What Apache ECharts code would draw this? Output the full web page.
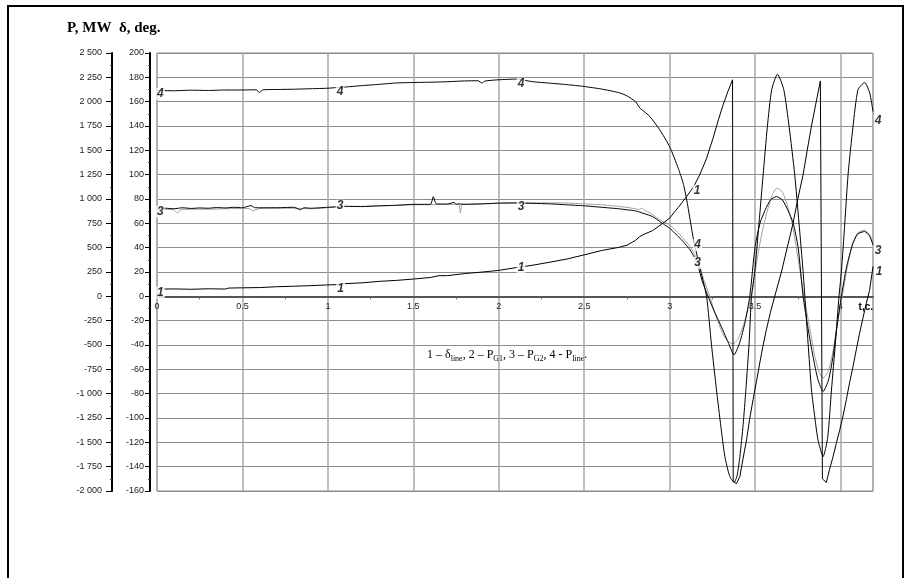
<!DOCTYPE html>
<html>
<head>
<meta charset="utf-8">
<script src="https://cdn.jsdelivr.net/npm/echarts@6/dist/echarts.min.js"></script>
<style>html,body{margin:0;padding:0;background:#fff}#c{width:906px;height:578px}</style>
</head>
<body>
<div id="c"></div>
<script>
// ---- data (t in s) ----
// curve 1: delta_line, deg
const curve1 = [[0,5.9],[0.1,6.1],[0.2,5.8],[0.3,6.2],[0.4,6.0],[0.42,6.8],[0.5,7.0],[0.6,7.2],[0.7,7.9],[0.8,8.3],[0.9,8.8],[1.0,9.4],[1.05,9.6],[1.1,10.4],[1.2,11.1],[1.3,12.3],[1.4,13.1],[1.5,14.2],[1.6,15.5],[1.65,17],[1.7,17.0],[1.8,18.7],[1.9,19.9],[2.0,21.3],[2.1,23.6],[2.2,25.6],[2.3,28.1],[2.4,30.7],[2.5,34.1],[2.6,37.6],[2.7,40.2],[2.75,42],[2.8,46],[2.826,49.2],[2.85,51],[2.9,54],[2.95,59],[3.0,64.3],[3.05,73],[3.099,82],[3.14,90],[3.176,99.9],[3.215,113],[3.254,130],[3.285,145],[3.313,157.4],[3.34,168],[3.368,178],[3.372,-152],[3.391,-154],[3.411,-148],[3.43,-133],[3.45,-118],[3.468,-101],[3.488,-85],[3.508,-70],[3.527,-55],[3.546,-41],[3.566,-27.5],[3.59,-13],[3.615,0],[3.654,20],[3.688,40],[3.722,60],[3.75,80],[3.781,100],[3.805,120],[3.83,140],[3.855,158],[3.882,177],[3.894,-150],[3.917,-153],[3.936,-142],[3.956,-132],[3.975,-121],[3.995,-110],[4.015,-98],[4.034,-85],[4.053,-71],[4.073,-57.7],[4.092,-44],[4.112,-30],[4.131,-18],[4.151,-5.6],[4.17,5],[4.19,24.5]];
// curve 2: P_G1, MW (grey)
const curve2 = [[0,890],[0.05,893],[0.1,888],[0.12,855],[0.14,892],[0.2,895],[0.3,895],[0.4,900],[0.5,903],[0.54,900],[0.56,880],[0.6,902],[0.7,905],[0.8,905],[0.9,900],[1.0,910],[1.05,918],[1.1,922],[1.2,925],[1.3,930],[1.4,935],[1.5,940],[1.6,942],[1.7,945],[1.765,945],[1.775,855],[1.785,945],[1.8,948],[1.9,950],[2.0,955],[2.1,958],[2.2,960],[2.3,960],[2.4,958],[2.5,950],[2.6,940],[2.7,925],[2.8,900],[2.82,890],[2.835,905],[2.86,880],[2.9,840],[2.942,786],[3.0,735],[3.06,632],[3.119,512],[3.167,358],[3.2,170],[3.235,0],[3.27,-200],[3.31,-380],[3.34,-460],[3.37,-488],[3.40,-440],[3.44,-250],[3.479,0],[3.51,360],[3.54,650],[3.57,870],[3.60,1040],[3.627,1112],[3.66,1070],[3.69,930],[3.72,720],[3.75,400],[3.786,0],[3.82,-330],[3.85,-620],[3.875,-780],[3.898,-840],[3.925,-780],[3.95,-620],[3.98,-300],[4.01,0],[4.04,300],[4.07,540],[4.10,650],[4.141,680],[4.17,630],[4.19,540]];
// curve 3: P_G2, MW
const curve3 = [[0,899],[0.05,905],[0.1,900],[0.15,910],[0.2,903],[0.25,908],[0.3,905],[0.35,912],[0.4,908],[0.45,915],[0.5,910],[0.55,932],[0.57,912],[0.6,910],[0.7,910],[0.8,915],[0.84,890],[0.86,910],[0.9,905],[1.0,915],[1.05,920],[1.1,925],[1.2,922],[1.3,930],[1.4,935],[1.5,945],[1.6,945],[1.617,1025],[1.635,950],[1.7,948],[1.74,965],[1.75,945],[1.76,950],[1.8,945],[1.9,950],[2.0,958],[2.1,960],[2.2,955],[2.3,950],[2.4,940],[2.5,930],[2.6,915],[2.7,900],[2.75,889],[2.8,878],[2.85,850],[2.9,820],[2.942,769],[2.97,735],[3.0,700],[3.03,650],[3.06,598],[3.09,540],[3.119,478],[3.145,400],[3.167,306],[3.19,160],[3.225,0],[3.26,-150],[3.293,-275],[3.342,-470],[3.377,-601],[3.411,-470],[3.44,-275],[3.469,0],[3.50,510],[3.53,760],[3.56,890],[3.59,990],[3.625,1025],[3.66,990],[3.693,880],[3.723,752],[3.752,500],[3.781,0],[3.81,-330],[3.839,-619],[3.868,-858],[3.898,-978],[3.93,-858],[3.956,-619],[3.98,-300],[4.005,0],[4.035,300],[4.07,530],[4.10,640],[4.141,666],[4.17,620],[4.19,529]];
// curve 4: P_line, MW
const curve4 = [[0,2115],[0.1,2112],[0.2,2118],[0.3,2115],[0.4,2120],[0.5,2120],[0.58,2122],[0.6,2094],[0.62,2122],[0.7,2125],[0.8,2128],[0.9,2133],[1.0,2138],[1.05,2145],[1.1,2150],[1.2,2165],[1.3,2178],[1.4,2192],[1.5,2197],[1.6,2200],[1.7,2205],[1.8,2213],[1.88,2215],[1.9,2192],[1.92,2212],[2.0,2225],[2.1,2232],[2.2,2205],[2.3,2190],[2.4,2175],[2.5,2156],[2.6,2130],[2.7,2094],[2.75,2060],[2.8,2000],[2.826,1934],[2.85,1900],[2.884,1848],[2.942,1711],[3.0,1538],[3.05,1317],[3.079,1163],[3.1,991],[3.14,580],[3.18,272],[3.216,0],[3.245,-500],[3.274,-961],[3.30,-1340],[3.323,-1646],[3.35,-1840],[3.377,-1913],[3.395,-1840],[3.411,-1646],[3.43,-1320],[3.446,-961],[3.465,-480],[3.479,0],[3.498,255],[3.523,752],[3.547,1249],[3.572,1745],[3.597,2122],[3.631,2283],[3.668,2122],[3.699,1745],[3.732,1249],[3.757,752],[3.781,255],[3.791,0],[3.81,-480],[3.83,-961],[3.85,-1250],[3.868,-1475],[3.898,-1646],[3.925,-1450],[3.947,-961],[3.97,-480],[3.991,0],[4.005,255],[4.025,752],[4.044,1249],[4.073,1745],[4.102,2122],[4.141,2197],[4.171,2088],[4.19,1899]];
// curve number labels: [t, deg-scale value], text
const tagPoints = [[0.02,166.5],[1.071,168.1],[2.13,174.6],[3.164,42.3],[4.22,144.3],
                   [0.02,69.5],[1.071,74.4],[2.13,73.6],[3.164,27.5],[4.22,37.4],
                   [0.02,2.9],[1.075,6.2],[2.13,23.4],[3.16,86.7],[4.225,20.1]];
const tagTexts = ['4','4','4','4','4','3','3','3','3','3','1','1','1','1','1'];
// axis ticks
const degMin = -160, degMax = 200, degStep = 20;
const pMin = -2000, pMax = 2500, pStep = 250;
const tMin = 0, tMax = 4.19, tStep = 0.5;

const chart = echarts.init(document.getElementById('c'), null, {renderer: 'canvas'});
const fmtP = v => (v < 0 ? '-' : '') + String(Math.abs(v)).replace(/\B(?=(\d{3})+(?!\d))/g, ' ');
const lbl = {fontFamily: 'Liberation Sans, Arial', fontSize: 9, color: '#222'};
const gridTop = 53, gridBottom = 87, H = 578;
const plotH = H - gridTop - gridBottom;
const zeroShift = -plotH * (0 - degMin) / (degMax - degMin); // move x axis up to the zero line
const smoothLine = {showSymbol: false, smooth: 0.2};
chart.setOption({
  animation: false,
  backgroundColor: '#fff',
  title: {text: 'P, MW  \u03b4, deg.', left: 62, top: 16,
    textStyle: {fontFamily: 'Liberation Serif, Times New Roman', fontWeight: 'bold', fontSize: 15, color: '#000'}},
  grid: {left: 157, right: 33, top: gridTop, bottom: gridBottom, show: true, borderColor: '#888', borderWidth: 1, containLabel: false},
  xAxis: {type: 'value', min: tMin, max: tMax, interval: tStep, position: 'bottom', offset: zeroShift,
    axisLine: {onZero: false, lineStyle: {color: '#555', width: 2}},
    axisTick: {show: false},
    minorTick: {show: true, splitNumber: 2, length: 3, lineStyle: {color: '#666'}},
    axisLabel: Object.assign({margin: 6, alignMaxLabel: 'right',
      formatter: v => (v > 4.1 ? '{b|t,c.}' : String(v)),
      rich: {b: {fontFamily: 'Liberation Sans, Arial', fontWeight: 'bold', fontSize: 10, color: '#000'}}}, lbl),
    splitLine: {show: true, lineStyle: {color: '#a8a8a8', width: 1.5}}},
  yAxis: [
    {type: 'value', position: 'left', offset: 7, min: degMin, max: degMax, interval: degStep,
      axisLine: {show: true, onZero: false, lineStyle: {color: '#000', width: 2}},
      axisTick: {show: true, length: 5, lineStyle: {color: '#000'}},
      minorTick: {show: true, splitNumber: 2, length: 2, lineStyle: {color: '#444'}},
      axisLabel: Object.assign({margin: 6}, lbl),
      splitLine: {show: true, lineStyle: {color: '#8c8c8c', width: 1}}},
    {type: 'value', position: 'left', offset: 45, min: pMin, max: pMax, interval: pStep,
      axisLine: {show: true, onZero: false, lineStyle: {color: '#000', width: 2}},
      axisTick: {show: true, length: 6, lineStyle: {color: '#000'}},
      minorTick: {show: true, splitNumber: 2, length: 2, lineStyle: {color: '#444'}},
      axisLabel: Object.assign({margin: 10, formatter: fmtP}, lbl),
      splitLine: {show: false}}
  ],
  series: [
    Object.assign({type: 'line', name: '2', yAxisIndex: 1, data: curve2, lineStyle: {color: '#a0a0a0', width: 1}, z: 2}, smoothLine),
    Object.assign({type: 'line', name: '3', yAxisIndex: 1, data: curve3, lineStyle: {color: '#000', width: 1}, z: 3}, smoothLine),
    Object.assign({type: 'line', name: '4', yAxisIndex: 1, data: curve4, lineStyle: {color: '#000', width: 1}, z: 3}, smoothLine),
    {type: 'line', name: '1', yAxisIndex: 0, data: curve1, showSymbol: false, lineStyle: {color: '#000', width: 1}, z: 3},
    {type: 'scatter', yAxisIndex: 0, data: tagPoints, symbolSize: 0, clip: false, silent: true, z: 10,
      label: {show: true, position: 'inside', formatter: p => tagTexts[p.dataIndex],
        fontFamily: 'Liberation Sans, Arial', fontStyle: 'italic', fontWeight: 'bold', fontSize: 12, color: '#000',
        backgroundColor: '#fff', padding: [0, 1, 0, 1]}}
  ],
  graphic: [
    {type: 'rect', shape: {x: 8, y: 6, width: 895, height: 580}, style: {fill: 'none', stroke: '#000', lineWidth: 2}, silent: true},
    {type: 'text', left: 427, top: 349, style: {
      text: '1 \u2013 \u03b4{s|line}, 2 \u2013 P{s|G1}, 3 \u2013 P{s|G2}, 4 - P{s|line}.',
      font: '12px "Liberation Serif", "Times New Roman", serif', fill: '#000',
      rich: {s: {fontFamily: 'Liberation Serif', fontSize: 8, padding: [7, 0, 0, 0], fill: '#000'}}}}
  ]
});
</script>
</body>
</html>
